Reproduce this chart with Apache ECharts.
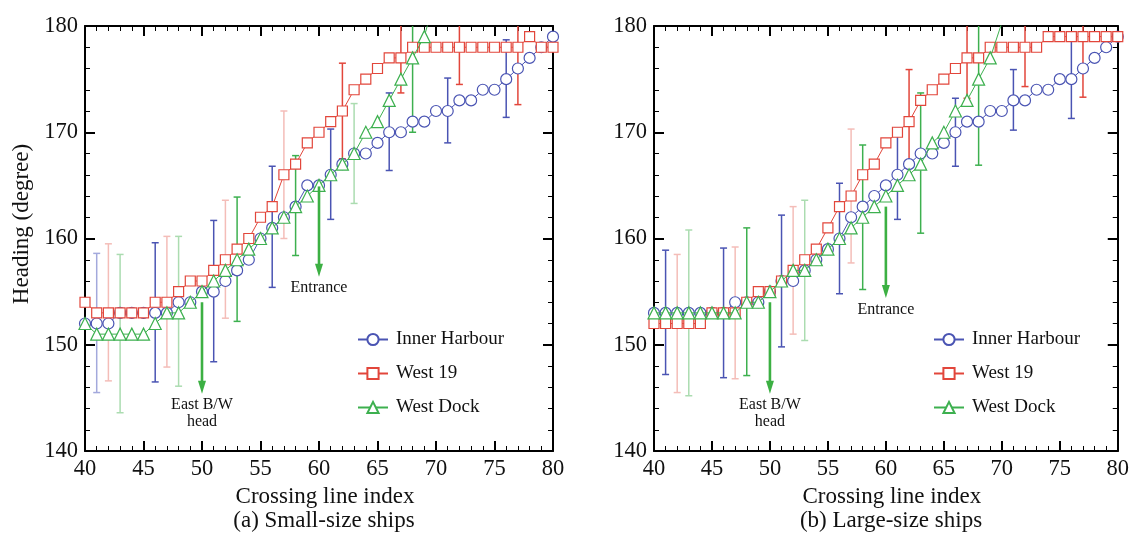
<!DOCTYPE html>
<html>
<head>
<meta charset="utf-8">
<script src="https://cdn.jsdelivr.net/npm/echarts@6/dist/echarts.min.js"></script>
<style>html,body{margin:0;padding:0;background:#fff}#c{width:1132px;height:540px}</style>
</head>
<body>
<div id="c"></div>
<script>
// ---------------- data ----------------
const seriesNames = ['Inner Harbour', 'West 19', 'West Dock'];
const crossingIdx = [40,41,42,43,44,45,46,47,48,49,50,51,52,53,54,55,56,57,58,59,60,61,62,63,64,65,66,67,68,69,70,71,72,73,74,75,76,77,78,79,80];

// (a) Small-size ships
const smallInner   = [152,152,152,153,153,153,153,153,154,154,155,155,156,157,158,160,161,162,163,165,165,166,167,168,168,169,170,170,171,171,172,172,173,173,174,174,175,176,177,178,179];
const smallWest19  = [154,153,153,153,153,153,154,154,155,156,156,157,158,159,160,162,163,166,167,169,170,171,172,174,175,176,177,177,178,178,178,178,178,178,178,178,178,178,179,178,178];
const smallWestDock= [152,151,151,151,151,151,152,153,153,154,155,156,157,158,159,160,161,162,163,164,165,166,167,168,170,171,173,175,177,179,183];

// (b) Large-size ships
const largeInner   = [153,153,153,153,153,153,153,154,154,154,155,156,156,157,158,159,160,162,163,164,165,166,167,168,168,169,170,171,171,172,172,173,173,174,174,175,175,176,177,178,179];
const largeWest19  = [152,152,152,152,152,153,153,153,154,155,155,156,157,158,159,161,163,164,166,167,169,170,171,173,174,175,176,177,177,178,178,178,178,178,179,179,179,179,179,179,179];
const largeWestDock= [153,153,153,153,153,153,153,153,154,154,155,156,157,157,158,159,160,161,162,163,164,165,166,167,169,170,172,173,175,177,180.3];

// error bars: x, low, high, faded flag
const smallInnerErrX  = [41,46,51,56,61,66,71,76];
const smallInnerErrLo = [145.5,146.5,148.4,155.4,161.8,166.4,169.0,171.4];
const smallInnerErrHi = [158.6,159.6,161.7,166.8,170.3,173.7,175.1,178.7];
const smallInnerErrFade = [1,0,0,0,0,0,0,0];
const smallWest19ErrX  = [42,47,52,57,62,67,72,77];
const smallWest19ErrLo = [146.6,147.9,152.5,160.0,167.5,173.7,174.5,172.6];
const smallWest19ErrHi = [159.5,160.2,163.6,172.0,176.5,182,182,182];
const smallWest19ErrFade = [1,1,1,1,0,0,0,0];
const smallDockErrX  = [43,48,53,58,63,68];
const smallDockErrLo = [143.6,146.1,152.2,158.4,163.3,170.0];
const smallDockErrHi = [158.5,160.2,163.9,167.8,172.7,182];
const smallDockErrFade = [1,1,0,0,1,0];

const largeInnerErrX  = [41,46,51,56,61,66,71,76];
const largeInnerErrLo = [147.2,146.9,149.8,154.8,161.8,166.8,170.2,171.3];
const largeInnerErrHi = [158.9,159.1,162.2,165.2,170.4,173.2,175.9,178.7];
const largeInnerErrFade = [0,0,0,0,0,0,0,0];
const largeWest19ErrX  = [42,47,52,57,62,67,72,77];
const largeWest19ErrLo = [145.5,146.8,151.0,157.7,166.6,173.2,174.3,173.3];
const largeWest19ErrHi = [158.5,159.2,163.0,170.3,175.9,182,182,182];
const largeWest19ErrFade = [1,1,1,1,0,0,0,0];
const largeDockErrX  = [43,48,53,58,63,68];
const largeDockErrLo = [145.2,147.1,150.4,155.2,160.5,166.9];
const largeDockErrHi = [160.8,161.0,163.6,168.8,173.7,182];
const largeDockErrFade = [1,0,1,0,0,0];

// annotations
const arrowLabels = ['East B/W\nhead', 'Entrance'];
const smallArrowX = [50, 60];
const smallArrowFrom = [154.0, 164.9];
const smallArrowTo = [145.4, 156.4];
const largeArrowX = [50, 60];
const largeArrowFrom = [154.0, 163.0];
const largeArrowTo = [145.4, 154.4];

const xTicks = {min: 40, max: 80, interval: 5};
const yTicks = {min: 140, max: 180, interval: 10};

// ---------------- styling ----------------
const FONT = '"Liberation Serif","Times New Roman",serif';
const C = {
  blue: '#4a54b3', red: '#e2463b', green: '#3db04f',
  blueFade: '#a3a9dc', redFade: '#f4bdb8', greenFade: '#abdcb0',
  arrow: '#3cb043'
};
const colorFor = [[C.blue, C.blueFade], [C.red, C.redFade], [C.green, C.greenFade]];
const symbols = ['circle', 'rect', 'triangle'];
const symbolSizes = [11, 10, 12];

function pairs(xs, ys) { return ys.map((v, i) => [xs[i], v]); }
function rows(xs, lo, hi, fd) { return xs.map((x, i) => [x, lo[i], hi[i], fd[i]]); }

function xAxes(grid) {
  const common = {
    type: 'value', gridIndex: grid, min: xTicks.min, max: xTicks.max, interval: xTicks.interval,
    axisLine: {show: true, onZero: false, lineStyle: {color: '#000', width: 2}},
    axisTick: {show: true, inside: true, length: 10, lineStyle: {color: '#000', width: 2}},
    minorTick: {show: true, splitNumber: 5, length: 5, lineStyle: {color: '#000', width: 1}},
    splitLine: {show: false}
  };
  return [
    Object.assign({}, common, {
      position: 'bottom',
      axisLabel: {show: true, fontSize: 22.5, fontFamily: FONT, color: '#111', margin: 7},
      name: 'Crossing line index', nameLocation: 'middle', nameGap: 33,
      nameTextStyle: {fontSize: 23, fontFamily: FONT, color: '#111', padding: [0, 0, 0, 12]}
    }),
    Object.assign({}, common, {position: 'top', axisLabel: {show: false}})
  ];
}
function yAxes(grid) {
  const common = {
    type: 'value', gridIndex: grid, min: yTicks.min, max: yTicks.max, interval: yTicks.interval,
    axisLine: {show: true, onZero: false, lineStyle: {color: '#000', width: 2}},
    axisTick: {show: true, inside: true, length: 10, lineStyle: {color: '#000', width: 2}},
    minorTick: {show: true, splitNumber: 5, length: 5, lineStyle: {color: '#000', width: 1}},
    splitLine: {show: false}
  };
  return [
    Object.assign({}, common, {
      position: 'left',
      axisLabel: {show: true, fontSize: 22.5, fontFamily: FONT, color: '#111', margin: 7}
    }),
    Object.assign({}, common, {position: 'right', axisLabel: {show: false}})
  ];
}

function lineSeries(k, grid, xs, ys) {
  return {
    type: 'line', name: seriesNames[k],
    xAxisIndex: grid * 2, yAxisIndex: grid * 2,
    data: pairs(xs, ys),
    symbol: symbols[k], symbolSize: symbolSizes[k],
    clip: true, z: 3 + k,
    lineStyle: {color: colorFor[k][0], width: 1},
    itemStyle: {color: '#fff', borderColor: colorFor[k][0], borderWidth: 1.2},
    emphasis: {disabled: true},
    animation: false
  };
}

function errSeries(k, grid, data) {
  return {
    type: 'custom', xAxisIndex: grid * 2, yAxisIndex: grid * 2, z: 2,
    data: data, silent: true, animation: false,
    renderItem: function (params, api) {
      const cs = params.coordSys;
      const x = api.value(0);
      const pLo = api.coord([x, api.value(1)]);
      const pHi = api.coord([x, api.value(2)]);
      const col = colorFor[k][api.value(3) ? 1 : 0];
      const top = Math.max(pHi[1], cs.y);
      const bot = Math.min(pLo[1], cs.y + cs.height);
      const st = {stroke: col, lineWidth: 1.5};
      const ch = [{type: 'line', shape: {x1: pLo[0], y1: bot, x2: pLo[0], y2: top}, style: st}];
      if (pHi[1] >= cs.y) ch.push({type: 'line', shape: {x1: pLo[0] - 3.5, y1: pHi[1], x2: pLo[0] + 3.5, y2: pHi[1]}, style: st});
      if (pLo[1] <= cs.y + cs.height) ch.push({type: 'line', shape: {x1: pLo[0] - 3.5, y1: pLo[1], x2: pLo[0] + 3.5, y2: pLo[1]}, style: st});
      return {type: 'group', children: ch};
    }
  };
}

function arrowSeries(grid, xs, from, to) {
  return {
    type: 'custom', xAxisIndex: grid * 2, yAxisIndex: grid * 2, z: 10,
    data: xs.map((x, i) => [x, from[i], to[i]]), silent: true, animation: false,
    renderItem: function (params, api) {
      const a = api.coord([api.value(0), api.value(1)]);
      const b = api.coord([api.value(0), api.value(2)]);
      return {type: 'group', children: [
        {type: 'line', shape: {x1: a[0], y1: a[1], x2: b[0], y2: b[1] - 10}, style: {stroke: C.arrow, lineWidth: 2.6}},
        {type: 'polygon', shape: {points: [[b[0] - 4, b[1] - 13], [b[0] + 4, b[1] - 13], [b[0], b[1]]]}, style: {fill: C.arrow}},
        {type: 'text', x: b[0], y: b[1] + 3, style: {text: arrowLabels[params.dataIndex], align: 'center', verticalAlign: 'top', fontSize: 16, fontFamily: FONT, fill: '#111', lineHeight: 17}}
      ]};
    }
  };
}

const legendCommon = {
  data: seriesNames, orient: 'vertical', itemWidth: 30, itemHeight: 14, itemGap: 15, padding: 0,
  selectedMode: false,
  textStyle: {fontSize: 19, fontFamily: FONT, color: '#111', padding: [0, 0, 0, 3]}
};

const option = {
  backgroundColor: '#fff',
  animation: false,
  grid: [
    {left: 85, top: 26, width: 468, height: 425},
    {left: 654, top: 26, width: 466, height: 425}
  ],
  xAxis: xAxes(0).concat(xAxes(1)),
  yAxis: yAxes(0).concat(yAxes(1)),
  legend: [
    Object.assign({}, legendCommon, {left: 357, top: 330}),
    Object.assign({}, legendCommon, {left: 933, top: 330})
  ],
  graphic: [
    {type: 'text', x: 22, y: 224, rotation: Math.PI / 2, style: {text: 'Heading (degree)', align: 'center', verticalAlign: 'middle', fontSize: 23, fontFamily: FONT, fill: '#111'}},
    {type: 'text', x: 324, y: 521, style: {text: '(a) Small-size ships', align: 'center', verticalAlign: 'middle', fontSize: 23, fontFamily: FONT, fill: '#111'}},
    {type: 'text', x: 891, y: 521, style: {text: '(b) Large-size ships', align: 'center', verticalAlign: 'middle', fontSize: 23, fontFamily: FONT, fill: '#111'}}
  ],
  series: [
    errSeries(0, 0, rows(smallInnerErrX, smallInnerErrLo, smallInnerErrHi, smallInnerErrFade)),
    errSeries(1, 0, rows(smallWest19ErrX, smallWest19ErrLo, smallWest19ErrHi, smallWest19ErrFade)),
    errSeries(2, 0, rows(smallDockErrX, smallDockErrLo, smallDockErrHi, smallDockErrFade)),
    errSeries(0, 1, rows(largeInnerErrX, largeInnerErrLo, largeInnerErrHi, largeInnerErrFade)),
    errSeries(1, 1, rows(largeWest19ErrX, largeWest19ErrLo, largeWest19ErrHi, largeWest19ErrFade)),
    errSeries(2, 1, rows(largeDockErrX, largeDockErrLo, largeDockErrHi, largeDockErrFade)),
    lineSeries(0, 0, crossingIdx, smallInner),
    lineSeries(1, 0, crossingIdx, smallWest19),
    lineSeries(2, 0, crossingIdx, smallWestDock),
    lineSeries(0, 1, crossingIdx, largeInner),
    lineSeries(1, 1, crossingIdx, largeWest19),
    lineSeries(2, 1, crossingIdx, largeWestDock),
    arrowSeries(0, smallArrowX, smallArrowFrom, smallArrowTo),
    arrowSeries(1, largeArrowX, largeArrowFrom, largeArrowTo)
  ]
};

const chart = echarts.init(document.getElementById('c'), null, {renderer: 'canvas'});
chart.setOption(option);
</script>
</body>
</html>
